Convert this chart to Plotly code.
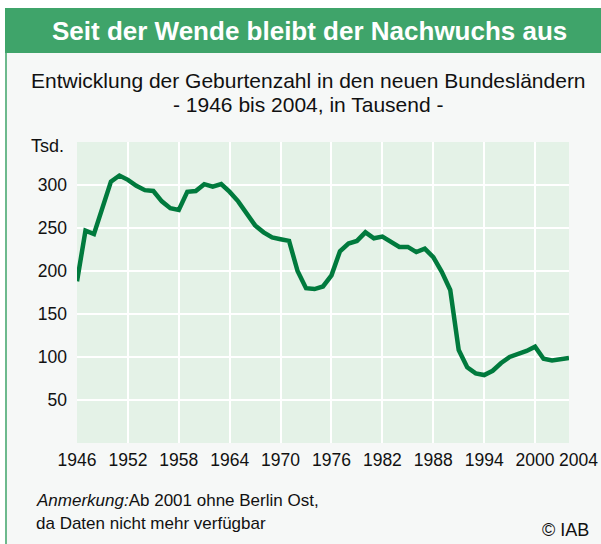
import plotly.graph_objects as go

years = list(range(1946, 2005))
births = [188, 247, 243, 274, 304, 311, 306, 299, 294, 293,
          281, 273, 271, 292, 293, 301, 298, 301, 292, 281,
          268, 253, 245, 239, 237, 235, 200, 180, 179, 182,
          195, 223, 232, 235, 245, 238, 240, 234, 228, 228,
          222, 226, 216, 199, 178, 108, 88, 81, 79, 84,
          93, 100, 103, 107, 112, 98, 96, 97, 99]

x_tickvals = [1946, 1952, 1958, 1964, 1970, 1976, 1982, 1988, 1994, 2000, 2004]
x_ticktext = ["1946", "1952", "1958", "1964", "1970", "1976", "1982", "1988", "1994", "2000", ""]
last_year_label = "2004"
y_tickvals = [50, 100, 150, 200, 250, 300]

W, H = 601, 544
L, R, T, B = 77, 569, 142, 443

def px(x):
    return (x - L) / (R - L)

def py(y):
    return (B - y) / (B - T)

fig = go.Figure()
fig.add_trace(go.Scatter(x=years, y=births, mode="lines",
                         line=dict(color="#007A3D", width=4.5),
                         hoverinfo="skip"))

font = "Liberation Sans, Arial, sans-serif"
shapes = [
    dict(type="rect", xref="paper", yref="paper", x0=px(5), x1=px(601), y0=py(8), y1=py(544),
         fillcolor="#F6F8F7", line=dict(width=0), layer="below"),
    dict(type="rect", xref="paper", yref="paper", x0=0, x1=1, y0=0, y1=1,
         fillcolor="#E4F2E7", line=dict(width=0), layer="below"),
    dict(type="rect", xref="paper", yref="paper", x0=px(5), x1=px(601), y0=py(8), y1=py(53),
         fillcolor="#3FA46A", line=dict(width=0), layer="below"),
    dict(type="line", xref="paper", yref="paper", x0=px(6), x1=px(6), y0=py(8), y1=py(544),
         line=dict(color="#3FA46A", width=1.5), layer="below"),
]

annotations = [
    dict(text="<b>Seit der Wende bleibt der Nachwuchs aus</b>", xref="paper", yref="paper",
         x=px(309), y=py(31), xanchor="center", yanchor="middle", showarrow=False,
         font=dict(family=font, size=26, color="white")),
    dict(text="Entwicklung der Geburtenzahl in den neuen Bundesländern", xref="paper", yref="paper",
         x=px(308), y=py(80), xanchor="center", yanchor="middle", showarrow=False,
         font=dict(family=font, size=21, color="#111111")),
    dict(text="- 1946 bis 2004, in Tausend -", xref="paper", yref="paper",
         x=px(308), y=py(104), xanchor="center", yanchor="middle", showarrow=False,
         font=dict(family=font, size=21, color="#111111")),
    dict(text="Tsd.", xref="paper", yref="paper",
         x=px(66), y=py(146), xanchor="right", yanchor="middle", showarrow=False,
         font=dict(family=font, size=18, color="#111111")),
    dict(text=last_year_label, xref="x", yref="paper",
         x=2004, y=0, xanchor="center", yanchor="top", xshift=9, yshift=-5, showarrow=False,
         font=dict(family=font, size=17.5, color="#111111")),
    dict(text="<i>Anmerkung:</i>Ab 2001 ohne Berlin Ost,", xref="paper", yref="paper",
         x=px(34), y=py(500), xanchor="left", yanchor="middle", showarrow=False,
         font=dict(family=font, size=17, color="#111111")),
    dict(text="da Daten nicht mehr verfügbar", xref="paper", yref="paper",
         x=px(34), y=py(523), xanchor="left", yanchor="middle", showarrow=False,
         font=dict(family=font, size=17, color="#111111")),
    dict(text="© IAB", xref="paper", yref="paper",
         x=px(591), y=py(530), xanchor="right", yanchor="middle", showarrow=False,
         font=dict(family=font, size=18, color="#111111")),
]

fig.update_layout(
    width=W, height=H,
    margin=dict(l=L, r=W - R, t=T, b=H - B, pad=0, autoexpand=False),
    paper_bgcolor="white",
    plot_bgcolor="rgba(0,0,0,0)",
    showlegend=False,
    shapes=shapes,
    annotations=annotations,
    font=dict(family=font, size=17.5, color="#111111"),
)
fig.update_xaxes(range=[1946, 2004], tickvals=x_tickvals, ticktext=x_ticktext,
                 showgrid=True, gridcolor="white", gridwidth=2, zeroline=False, automargin=False,
                 showline=False, ticks="", tickangle=0, ticklabelstandoff=4, fixedrange=True)
fig.update_yaxes(range=[0, 350], tickvals=y_tickvals, automargin=False,
                 showgrid=True, gridcolor="white", gridwidth=2, zeroline=False,
                 showline=False, ticks="", ticklabelstandoff=9, fixedrange=True)

fig.write_html("out.html", config={"displayModeBar": False},
               post_script="document.body.style.margin='0';document.body.style.overflow='hidden';")
